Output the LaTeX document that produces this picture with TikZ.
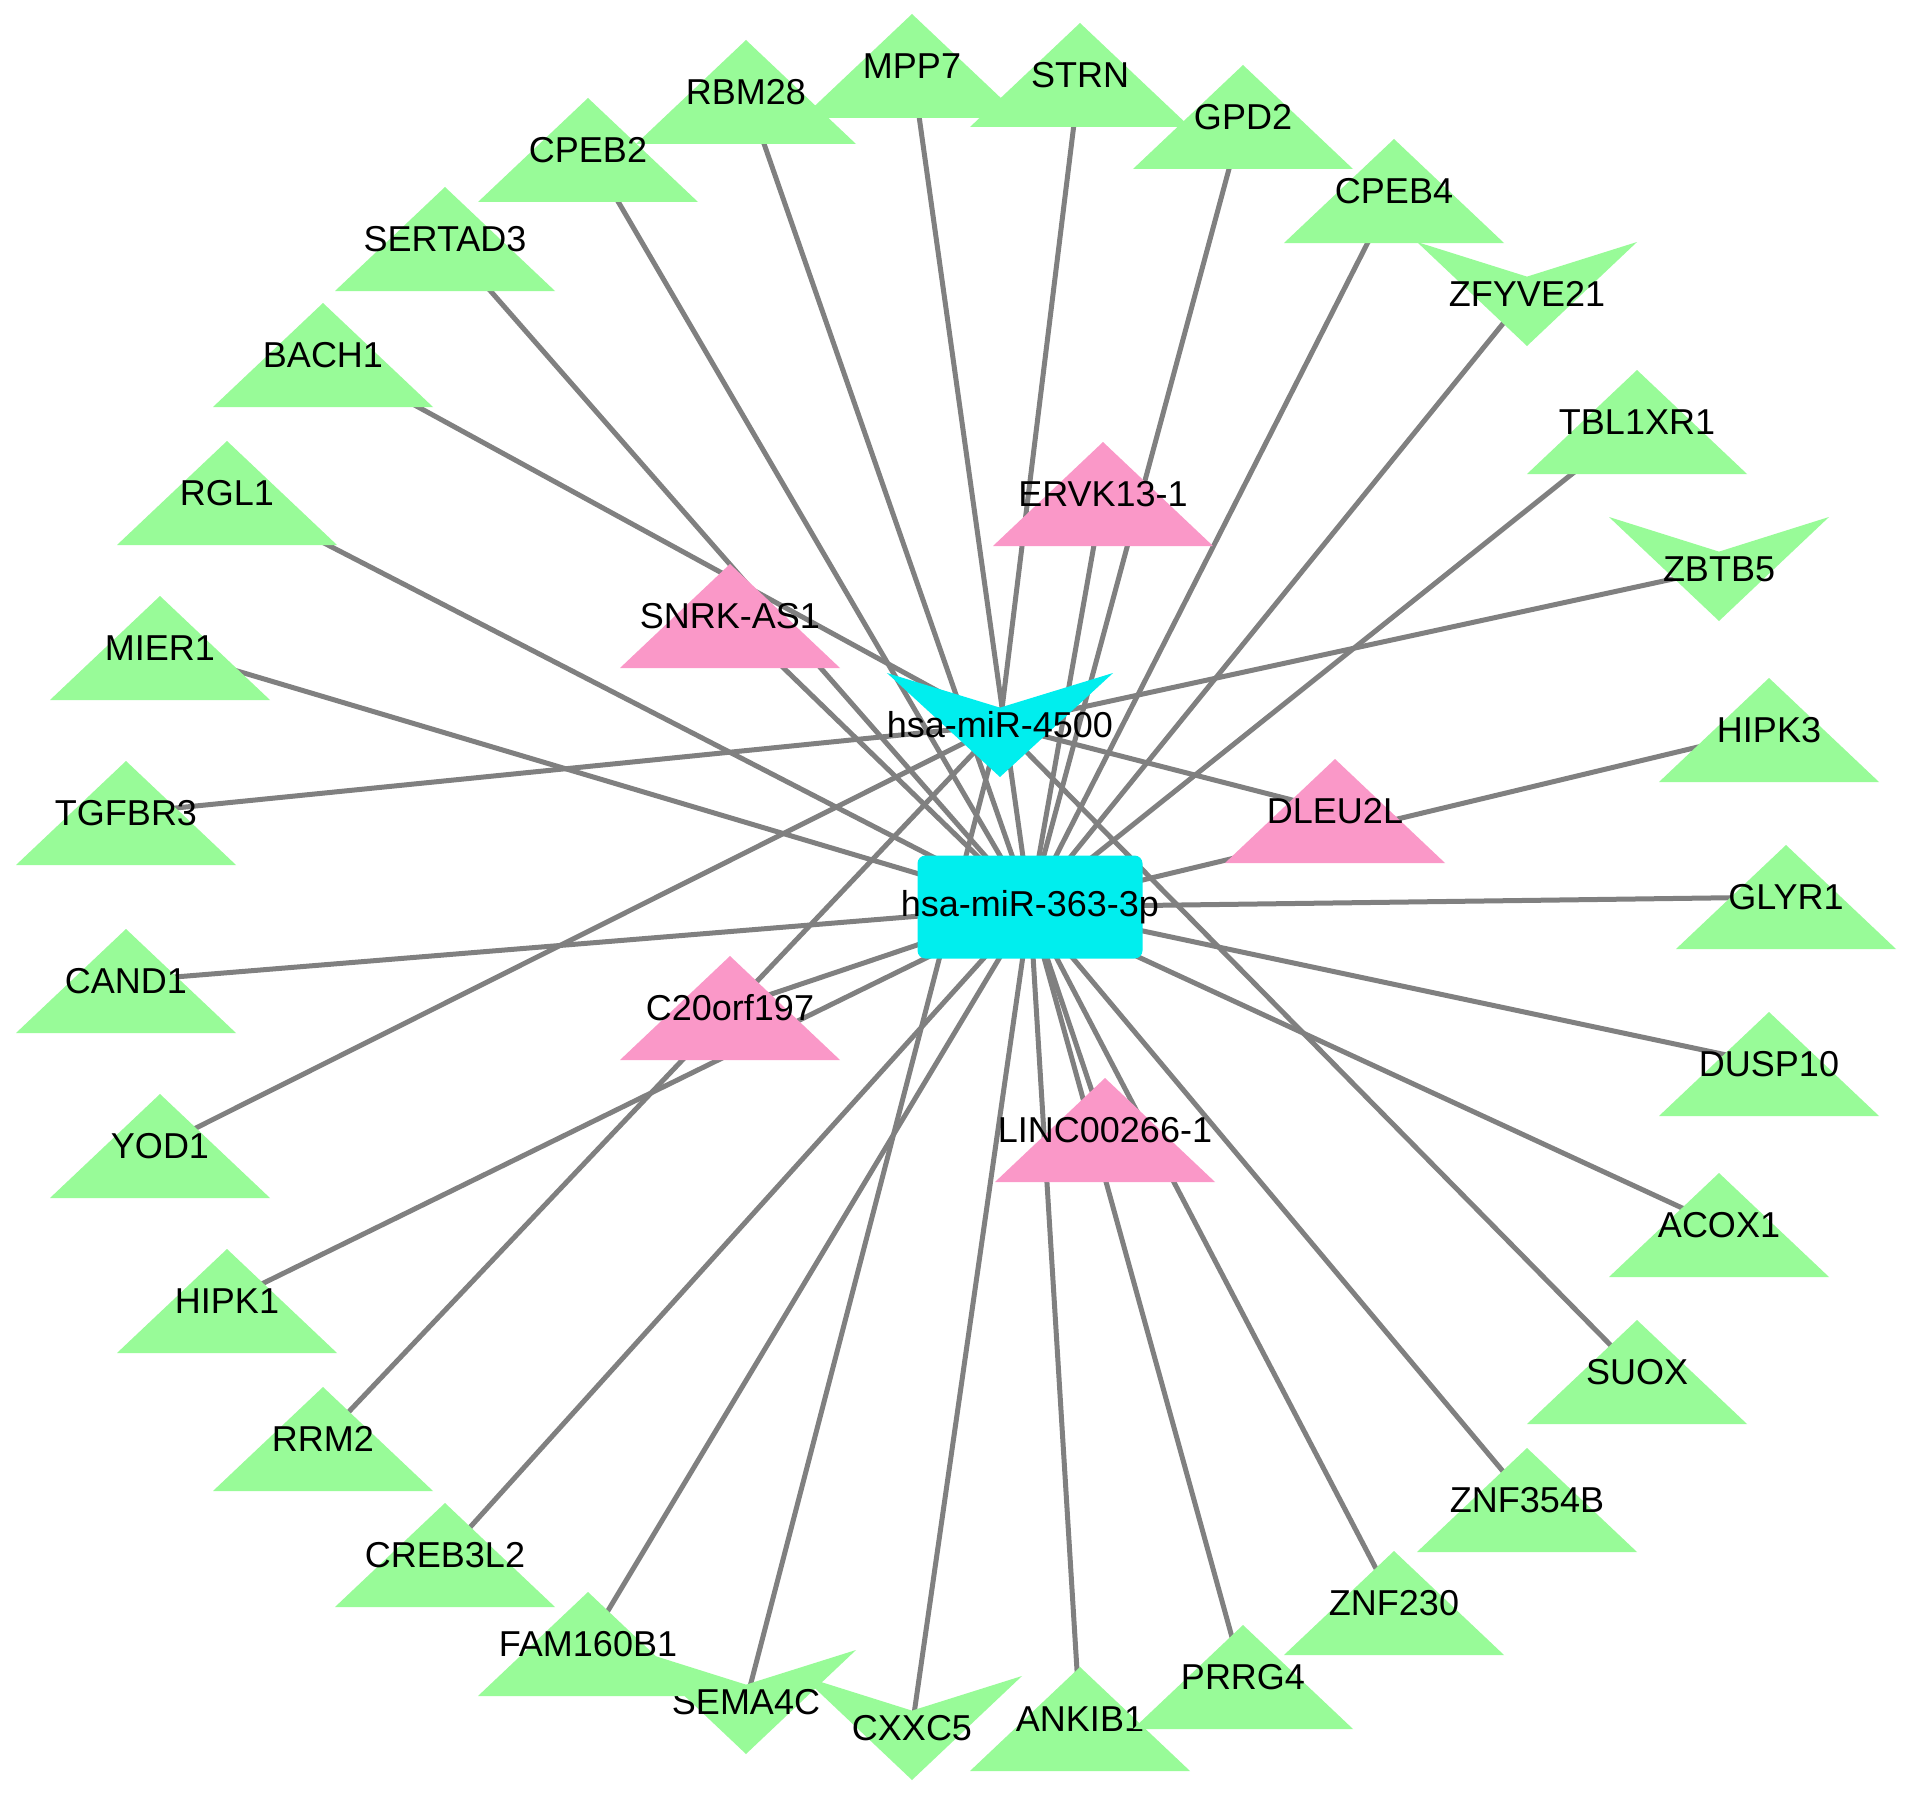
\documentclass[tikz,border=0pt]{standalone}
\usepackage{fontspec}
\setmainfont{Liberation Sans}
\usetikzlibrary{calc}

\definecolor{genegreen}{RGB}{152,251,152}
\definecolor{lncpink}{RGB}{250,152,200}
\definecolor{mircyan}{RGB}{0,238,238}
\definecolor{linkgray}{RGB}{128,128,128}

\pgfdeclarelayer{paper}
\pgfdeclarelayer{links}
\pgfsetlayers{paper,links,main}

\tikzset{every picture/.style={line width=0.75pt}}
\tikzset{
  netnode/.style={inner sep=0pt, minimum width=110pt, minimum height=52pt, text=black, font=\fontsize{18}{21}\selectfont},
  trinode/.style={netnode, path picture={\fill[#1] (path picture bounding box.south west) -- (path picture bounding box.north) -- (path picture bounding box.south east) -- cycle;}},
  veenode/.style={netnode, path picture={\fill[#1] (path picture bounding box.north west) -- ($(path picture bounding box.north)!0.333!(path picture bounding box.south)$) -- (path picture bounding box.north east) -- (path picture bounding box.south) -- cycle;}},
  boxnode/.style={netnode, minimum width=112.5pt, minimum height=51.5pt, path picture={\fill[#1, rounded corners=4pt] ($(path picture bounding box.center)+(-56.25pt,-25.75pt)$) rectangle ($(path picture bounding box.center)+(56.25pt,25.75pt)$);}},
  tielink/.style={draw=linkgray, line width=2.5pt},
}

\begin{document}
\begin{tikzpicture}[x=0.5pt,y=0.5pt,yscale=-1,xscale=1]
\useasboundingbox (0,0) rectangle (1913,1793);
\begin{pgfonlayer}{paper}
\fill [white] (0,0) rectangle (1913,1793);
\end{pgfonlayer}

% Text Node
\node [trinode=genegreen] (glyr1) at (1786,897) {GLYR1};
% Text Node
\node [trinode=genegreen] (hipk3) at (1769,730) {HIPK3};
% Text Node
\node [veenode=genegreen] (zbtb5) at (1719,569) {ZBTB5};
% Text Node
\node [trinode=genegreen] (tbl1xr1) at (1637,422) {TBL1XR1};
% Text Node
\node [veenode=genegreen] (zfyve21) at (1527,294) {ZFYVE21};
% Text Node
\node [trinode=genegreen] (cpeb4) at (1394,191) {CPEB4};
% Text Node
\node [trinode=genegreen] (gpd2) at (1243,117) {GPD2};
% Text Node
\node [trinode=genegreen] (strn) at (1080,75) {STRN};
% Text Node
\node [trinode=genegreen] (mpp7) at (912,66) {MPP7};
% Text Node
\node [trinode=genegreen] (rbm28) at (746,92) {RBM28};
% Text Node
\node [trinode=genegreen] (cpeb2) at (588,150) {CPEB2};
% Text Node
\node [trinode=genegreen] (sertad3) at (445,239) {SERTAD3};
% Text Node
\node [trinode=genegreen] (bach1) at (323,355) {BACH1};
% Text Node
\node [trinode=genegreen] (rgl1) at (227,493) {RGL1};
% Text Node
\node [trinode=genegreen] (mier1) at (160,648) {MIER1};
% Text Node
\node [trinode=genegreen] (tgfbr3) at (126,813) {TGFBR3};
% Text Node
\node [trinode=genegreen] (cand1) at (126,981) {CAND1};
% Text Node
\node [trinode=genegreen] (yod1) at (160,1146) {YOD1};
% Text Node
\node [trinode=genegreen] (hipk1) at (227,1301) {HIPK1};
% Text Node
\node [trinode=genegreen] (rrm2) at (323,1439) {RRM2};
% Text Node
\node [trinode=genegreen] (creb3l2) at (445,1555) {CREB3L2};
% Text Node
\node [veenode=genegreen] (sema4c) at (746,1702) {SEMA4C};
% Text Node
\node [trinode=genegreen] (fam160b1) at (588,1644) {FAM160B1};
% Text Node
\node [veenode=genegreen] (cxxc5) at (912,1728) {CXXC5};
% Text Node
\node [trinode=genegreen] (ankib1) at (1080,1719) {ANKIB1};
% Text Node
\node [trinode=genegreen] (prrg4) at (1243,1677) {PRRG4};
% Text Node
\node [trinode=genegreen] (znf230) at (1394,1603) {ZNF230};
% Text Node
\node [trinode=genegreen] (znf354b) at (1527,1500) {ZNF354B};
% Text Node
\node [trinode=genegreen] (suox) at (1637,1372) {SUOX};
% Text Node
\node [trinode=genegreen] (acox1) at (1719,1225) {ACOX1};
% Text Node
\node [trinode=genegreen] (dusp10) at (1769,1064) {DUSP10};

% Text Node
\node [trinode=lncpink] (ervk) at (1103,494) {ERVK13-1};
% Text Node
\node [trinode=lncpink] (snrk) at (730,616) {SNRK-AS1};
% Text Node
\node [trinode=lncpink] (dleu) at (1335,811) {DLEU2L};
% Text Node
\node [trinode=lncpink] (c20) at (730,1008) {C20orf197};
% Text Node
\node [trinode=lncpink] (linc) at (1105,1130) {LINC00266-1};

% Text Node
\node [veenode=mircyan] (mir4500) at (1000,725) {hsa-miR-4500};
% Text Node
\node [boxnode=mircyan] (mir363) at (1030,907) {hsa-miR-363-3p};

\begin{pgfonlayer}{links}
%Straight Lines
\draw [tielink] (mpp7.center) -- (mir363.center);
\draw [tielink] (rbm28.center) -- (mir363.center);
\draw [tielink] (gpd2.center) -- (mir363.center);
\draw [tielink] (cpeb2.center) -- (mir363.center);
\draw [tielink] (cpeb4.center) -- (mir363.center);
\draw [tielink] (sertad3.center) -- (mir363.center);
\draw [tielink] (zfyve21.center) -- (mir363.center);
\draw [tielink] (tbl1xr1.center) -- (mir363.center);
\draw [tielink] (rgl1.center) -- (mir363.center);
\draw [tielink] (mier1.center) -- (mir363.center);
\draw [tielink] (hipk3.center) -- (mir363.center);
\draw [tielink] (glyr1.center) -- (mir363.center);
\draw [tielink] (cand1.center) -- (mir363.center);
\draw [tielink] (dusp10.center) -- (mir363.center);
\draw [tielink] (acox1.center) -- (mir363.center);
\draw [tielink] (hipk1.center) -- (mir363.center);
\draw [tielink] (znf354b.center) -- (mir363.center);
\draw [tielink] (creb3l2.center) -- (mir363.center);
\draw [tielink] (znf230.center) -- (mir363.center);
\draw [tielink] (fam160b1.center) -- (mir363.center);
\draw [tielink] (prrg4.center) -- (mir363.center);
\draw [tielink] (cxxc5.center) -- (mir363.center);
\draw [tielink] (ankib1.center) -- (mir363.center);
\draw [tielink] (ervk.center) -- (mir363.center);
\draw [tielink] (snrk.center) -- (mir363.center);
\draw [tielink] (c20.center) -- (mir363.center);
\draw [tielink] (linc.center) -- (mir363.center);
%Straight Lines
\draw [tielink] (strn.center) -- (mir4500.center);
\draw [tielink] (bach1.center) -- (mir4500.center);
\draw [tielink] (zbtb5.center) -- (mir4500.center);
\draw [tielink] (tgfbr3.center) -- (mir4500.center);
\draw [tielink] (yod1.center) -- (mir4500.center);
\draw [tielink] (suox.center) -- (mir4500.center);
\draw [tielink] (rrm2.center) -- (mir4500.center);
\draw [tielink] (sema4c.center) -- (mir4500.center);
\draw [tielink] (dleu.center) -- (mir4500.center);
\end{pgfonlayer}

\end{tikzpicture}
\end{document}
